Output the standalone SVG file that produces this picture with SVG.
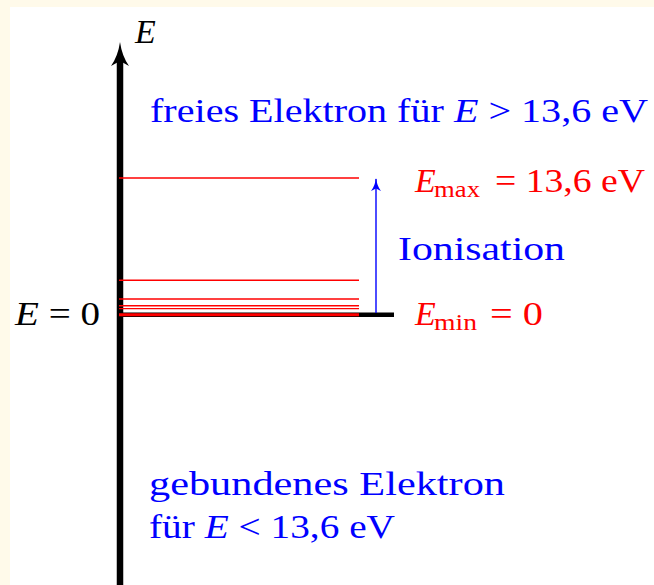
<svg xmlns="http://www.w3.org/2000/svg" width="654" height="585" viewBox="0 0 654 585">
  <style>
    text { font-family: 'Liberation Serif', 'Times New Roman', serif; font-size: 34px; }
    .blue { fill: #0000ff; }
    .red { fill: #ff0000; }
    .blk { fill: #000000; }
    .it { font-style: italic; }
    .sub { font-size: 23px; }
    .lvl { stroke: #ff0000; stroke-width: 1.4; fill: none; }
  </style>
  <defs>
    <marker id="blueHead" viewBox="0 0 14 10" refX="13" refY="5" markerWidth="14" markerHeight="10" markerUnits="userSpaceOnUse" orient="auto">
      <path d="M14,5 Q6,6 1,10 L3.5,5 L1,0 Q6,4 14,5 Z" fill="#0000ff"/>
    </marker>
  </defs>
  <rect x="0" y="0" width="654" height="585" fill="#fffaea"/>
  <rect x="10" y="7" width="644" height="578" fill="#ffffff"/>

  <g id="axis">
    <line x1="120" y1="60" x2="120" y2="585" stroke="#000" stroke-width="6.5"/>
    <path d="M120,42 Q122,56 129,66 L120,61 L111,66 Q118,56 120,42 Z" fill="#000"/>
    <text x="135" y="43" class="blk it" font-family="Liberation Serif" font-size="35">E</text>
  </g>

  <g id="levels">
    <line x1="120" y1="314.7" x2="394" y2="314.7" stroke="#000" stroke-width="4.4"/>
    <line class="lvl" x1="119" y1="178" x2="359" y2="178"/>
    <line class="lvl" x1="119" y1="280.3" x2="359" y2="280.3"/>
    <line class="lvl" x1="119" y1="299" x2="359" y2="299"/>
    <line class="lvl" x1="119" y1="305.7" x2="359" y2="305.7"/>
    <line class="lvl" x1="119" y1="308.6" x2="359" y2="308.6"/>
    <line x1="119" y1="314.7" x2="359" y2="314.7" stroke="#ff0000" stroke-width="3"/>
  </g>

  <g id="connectors">
    <line x1="376" y1="313" x2="376" y2="179" stroke="#0000ff" stroke-width="1.4" marker-end="url(#blueHead)"/>
  </g>

  <g id="free">
    <text x="150" y="122" class="blue" font-family="Liberation Serif" textLength="498" lengthAdjust="spacingAndGlyphs">freies Elektron für <tspan class="it">E</tspan> &gt; 13,6 eV</text>
  </g>

  <g id="emax">
    <text x="415" y="192" class="red it" font-family="Liberation Serif">E</text>
    <text x="434" y="197" class="red sub" font-family="Liberation Serif" textLength="46" lengthAdjust="spacingAndGlyphs">max</text>
    <text x="495" y="192" class="red" font-family="Liberation Serif" textLength="150" lengthAdjust="spacingAndGlyphs">= 13,6 eV</text>
  </g>

  <g id="ionisation">
    <text x="398" y="260" class="blue" font-family="Liberation Serif" textLength="167" lengthAdjust="spacingAndGlyphs">Ionisation</text>
  </g>

  <g id="emin">
    <text x="415" y="325" class="red it" font-family="Liberation Serif">E</text>
    <text x="434" y="330" class="red sub" font-family="Liberation Serif" textLength="43" lengthAdjust="spacingAndGlyphs">min</text>
    <text x="490" y="325" class="red" font-family="Liberation Serif" textLength="53" lengthAdjust="spacingAndGlyphs">= 0</text>
  </g>

  <g id="ezero">
    <text x="15" y="325" class="blk" font-family="Liberation Serif" textLength="85" lengthAdjust="spacingAndGlyphs"><tspan class="it">E</tspan> = 0</text>
  </g>

  <g id="bound">
    <text x="149" y="495" class="blue" font-family="Liberation Serif" textLength="356" lengthAdjust="spacingAndGlyphs">gebundenes Elektron</text>
    <text x="149" y="538" class="blue" font-family="Liberation Serif" textLength="246" lengthAdjust="spacingAndGlyphs">für <tspan class="it">E</tspan> &lt; 13,6 eV</text>
  </g>
</svg>
